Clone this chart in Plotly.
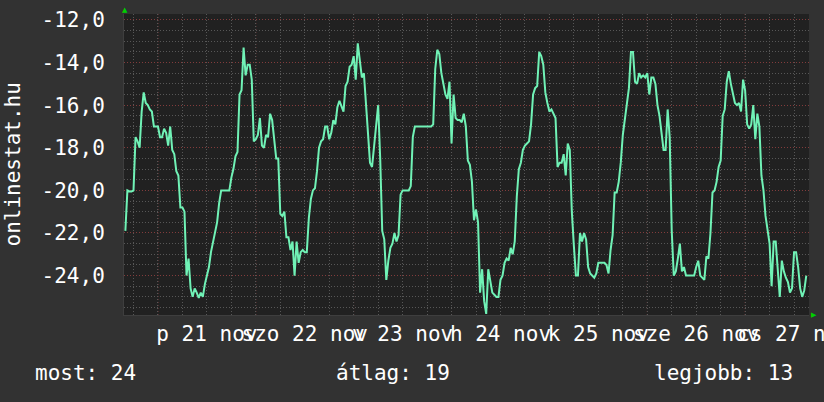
import pandas as pd
import plotly.graph_objects as go

# ---- data (half-hourly samples) ----
start_time = "2014-11-20 16:00"
values = [
    -21.9, -20.0, -20.05, -20.05, -20.0, -17.5, -17.7, -18.0, -16.3, -15.4,
    -15.9, -16.0, -16.2, -16.3, -17.0, -17.0, -17.0, -17.5, -17.5, -17.1,
    -17.3, -17.9, -17.0, -18.1, -18.3, -19.1, -19.3, -20.8, -20.8, -21.0,
    -24.0, -23.2, -24.6, -25.0, -24.6, -24.8, -25.05, -24.8, -25.0, -24.4,
    -24.0, -23.6, -22.9, -22.4, -21.9, -21.5, -20.6, -20.0, -20.0, -20.0,
    -20.0, -20.0, -19.4, -19.0, -18.4, -18.2, -15.5, -15.3, -13.3, -14.6,
    -14.1, -14.1, -14.8, -17.7, -17.6, -17.4, -16.6, -17.9, -18.0, -17.4,
    -17.5, -16.4, -16.7, -17.6, -18.5, -18.5, -21.1, -21.2, -21.0, -22.2,
    -22.2, -22.8, -22.4, -24.0, -22.4, -23.4, -22.9, -22.8, -22.9, -22.9,
    -21.3, -20.4, -20.0, -19.9, -19.1, -18.0, -17.7, -17.6, -17.0, -17.0,
    -17.6, -17.3, -16.7, -16.9, -16.1, -15.8, -16.1, -16.3, -15.1, -14.9,
    -14.2, -14.1, -13.7, -14.8, -13.1, -13.8, -14.7, -14.5, -16.0, -17.5,
    -18.7, -18.9, -18.0, -16.8, -16.0, -18.5, -21.9, -22.3, -24.2, -23.3,
    -22.7, -22.5, -22.0, -22.4, -22.1, -20.2, -20.0, -20.0, -20.0, -20.0,
    -19.8, -17.5, -17.0, -17.0, -17.0, -17.0, -17.0, -17.0, -17.0, -17.0,
    -17.0, -16.9, -14.3, -13.4, -13.6, -14.5, -15.1, -15.5, -15.7, -14.9,
    -17.8, -15.5, -16.6, -16.7, -16.7, -16.8, -16.4, -17.0, -18.6, -18.8,
    -19.6, -21.4, -20.9, -21.5, -24.8, -23.7, -25.2, -25.8, -23.7, -24.2,
    -24.8, -24.9, -25.0, -25.0, -24.2, -24.0, -23.4, -23.2, -23.3, -22.7,
    -23.0, -22.4, -20.3, -19.0, -18.7, -18.1, -17.9, -17.8, -17.7, -16.9,
    -15.5, -15.2, -15.1, -13.5, -13.7, -14.1, -15.4, -15.9, -16.3, -16.2,
    -16.4, -16.6, -18.9, -18.7, -18.7, -18.3, -19.3, -17.8, -18.1, -21.0,
    -22.6, -24.0, -24.0, -22.0, -22.4, -22.0, -22.3, -23.6, -23.9, -24.0,
    -24.1, -23.9, -23.4, -23.4, -23.4, -23.4, -23.5, -23.9, -22.8, -22.1,
    -20.1, -20.1, -19.6, -18.7, -17.4, -16.6, -15.9, -15.2, -13.5, -13.5,
    -14.9, -15.0, -14.5, -14.7, -14.6, -14.7, -14.5, -15.5, -14.7, -14.7,
    -15.0, -16.0, -16.5, -17.4, -18.1, -18.1, -16.2, -17.5, -21.9, -24.0,
    -23.8, -23.2, -22.5, -23.8, -23.6, -24.0, -24.0, -24.0, -24.0, -24.0,
    -23.6, -23.3, -24.0, -24.1, -24.2, -23.1, -23.2, -22.0, -20.1, -20.0,
    -19.6, -18.9, -18.6, -16.5, -16.2, -14.9, -14.4, -15.0, -15.4, -15.9,
    -16.0, -15.9, -16.3, -14.8, -15.3, -16.9, -17.1, -16.9, -16.0, -17.6,
    -16.4, -17.0, -19.3, -20.0, -21.2, -21.8, -22.5, -24.5, -22.4, -22.4,
    -23.6, -25.0, -23.3, -23.8, -24.1, -24.3, -24.8, -24.6, -22.9, -22.9,
    -23.6, -24.6, -25.0, -24.7, -24.0,
]
day_labels = ["p 21 nov", "szo 22 nov", "v 23 nov", "h 24 nov",
              "k 25 nov", "sze 26 nov", "cs 27 nov"]
y_tick_vals = [-12, -14, -16, -18, -20, -22, -24]
y_tick_text = ["-12,0", "-14,0", "-16,0", "-18,0", "-20,0", "-22,0", "-24,0"]
legend_items = ["most: 24", "átlag: 19", "legjobb: 13"]
y_title = "onlinestat.hu"

times = pd.date_range(start_time, periods=len(values), freq="30min")
x_range = ["2014-11-20 15:40", "2014-11-27 15:40"]

six_hours = pd.date_range("2014-11-20 18:00", "2014-11-27 12:00", freq="6h")
labels = []
k = 0
for t in six_hours:
    if t.hour == 12:
        labels.append(day_labels[k])
        k += 1
    else:
        labels.append("")
midnights = pd.date_range("2014-11-21", "2014-11-27", freq="D")

FONT = "DejaVu Sans Mono"
FS = 21
BG = "#323232"
PLOT_BG = "#212121"
LINE = "#70f2b6"
GRID = "#575757"
RED = "#823c3c"

fig = go.Figure()
fig.add_trace(go.Scatter(x=times, y=values, mode="lines",
                         line=dict(color=LINE, width=2), hoverinfo="skip"))

shapes = []
for m in midnights:
    shapes.append(dict(type="line", xref="x", yref="paper", x0=m, x1=m, y0=0, y1=1,
                       line=dict(color=RED, width=1, dash="1px,2px"), layer="below"))

annotations = [
    dict(text=y_title, xref="paper", yref="paper", x=0, y=0.5, xshift=-112,
         textangle=-90, showarrow=False, font=dict(family=FONT, size=FS, color="white"),
         xanchor="center", yanchor="middle"),
    dict(text="▲", xref="paper", yref="paper", x=0, y=1, xshift=1, yshift=4,
         showarrow=False, font=dict(family="DejaVu Sans", size=7, color="#00d000"),
         xanchor="center", yanchor="middle"),
    dict(text="▶", xref="paper", yref="paper", x=1, y=0, xshift=5, yshift=0,
         showarrow=False, font=dict(family="DejaVu Sans", size=7, color="#00d000"),
         xanchor="center", yanchor="middle"),
]
legend_x = [33 - 124, 334 - 124, 652 - 124]
for txt, xs in zip(legend_items, legend_x):
    annotations.append(dict(text=txt, xref="paper", yref="paper", x=0, y=0,
                            xshift=xs, yshift=-58, showarrow=False,
                            font=dict(family=FONT, size=FS, color="white"),
                            xanchor="left", yanchor="middle"))

fig.update_layout(
    width=824, height=402,
    margin=dict(l=124, r=15, t=14, b=87),
    paper_bgcolor=BG, plot_bgcolor=PLOT_BG,
    showlegend=False,
    shapes=shapes,
    annotations=annotations,
    font=dict(family=FONT, size=FS, color="white"),
)
fig.update_xaxes(
    type="date", range=x_range,
    tickmode="array", tickvals=six_hours, ticktext=labels,
    tickangle=0, ticks="", showgrid=True, gridcolor=GRID, griddash="1px,2px",
    gridwidth=1, zeroline=False, showline=True, linecolor="#3e3e3e",
    ticklabeloverflow="allow", automargin=False,
    tickfont=dict(family=FONT, size=FS, color="white"),
)
fig.update_yaxes(
    range=[-25.85, -11.72],
    tickmode="array", tickvals=y_tick_vals, ticktext=y_tick_text,
    ticks="", showgrid=True, gridcolor=RED, griddash="1px,2px", gridwidth=1,
    minor=dict(dtick=0.5, tick0=0, showgrid=True, gridcolor=GRID,
               griddash="1px,2px", gridwidth=1),
    zeroline=False, showline=True, linecolor="#3e3e3e",
    ticklabelstandoff=14, automargin=False,
    tickfont=dict(family=FONT, size=FS, color="white"),
)

fig.write_html(
    "out.html",
    config={"displayModeBar": False},
    post_script="document.body.style.margin='0';document.body.style.overflow='hidden';"
                "document.body.style.background='#323232';",
)
